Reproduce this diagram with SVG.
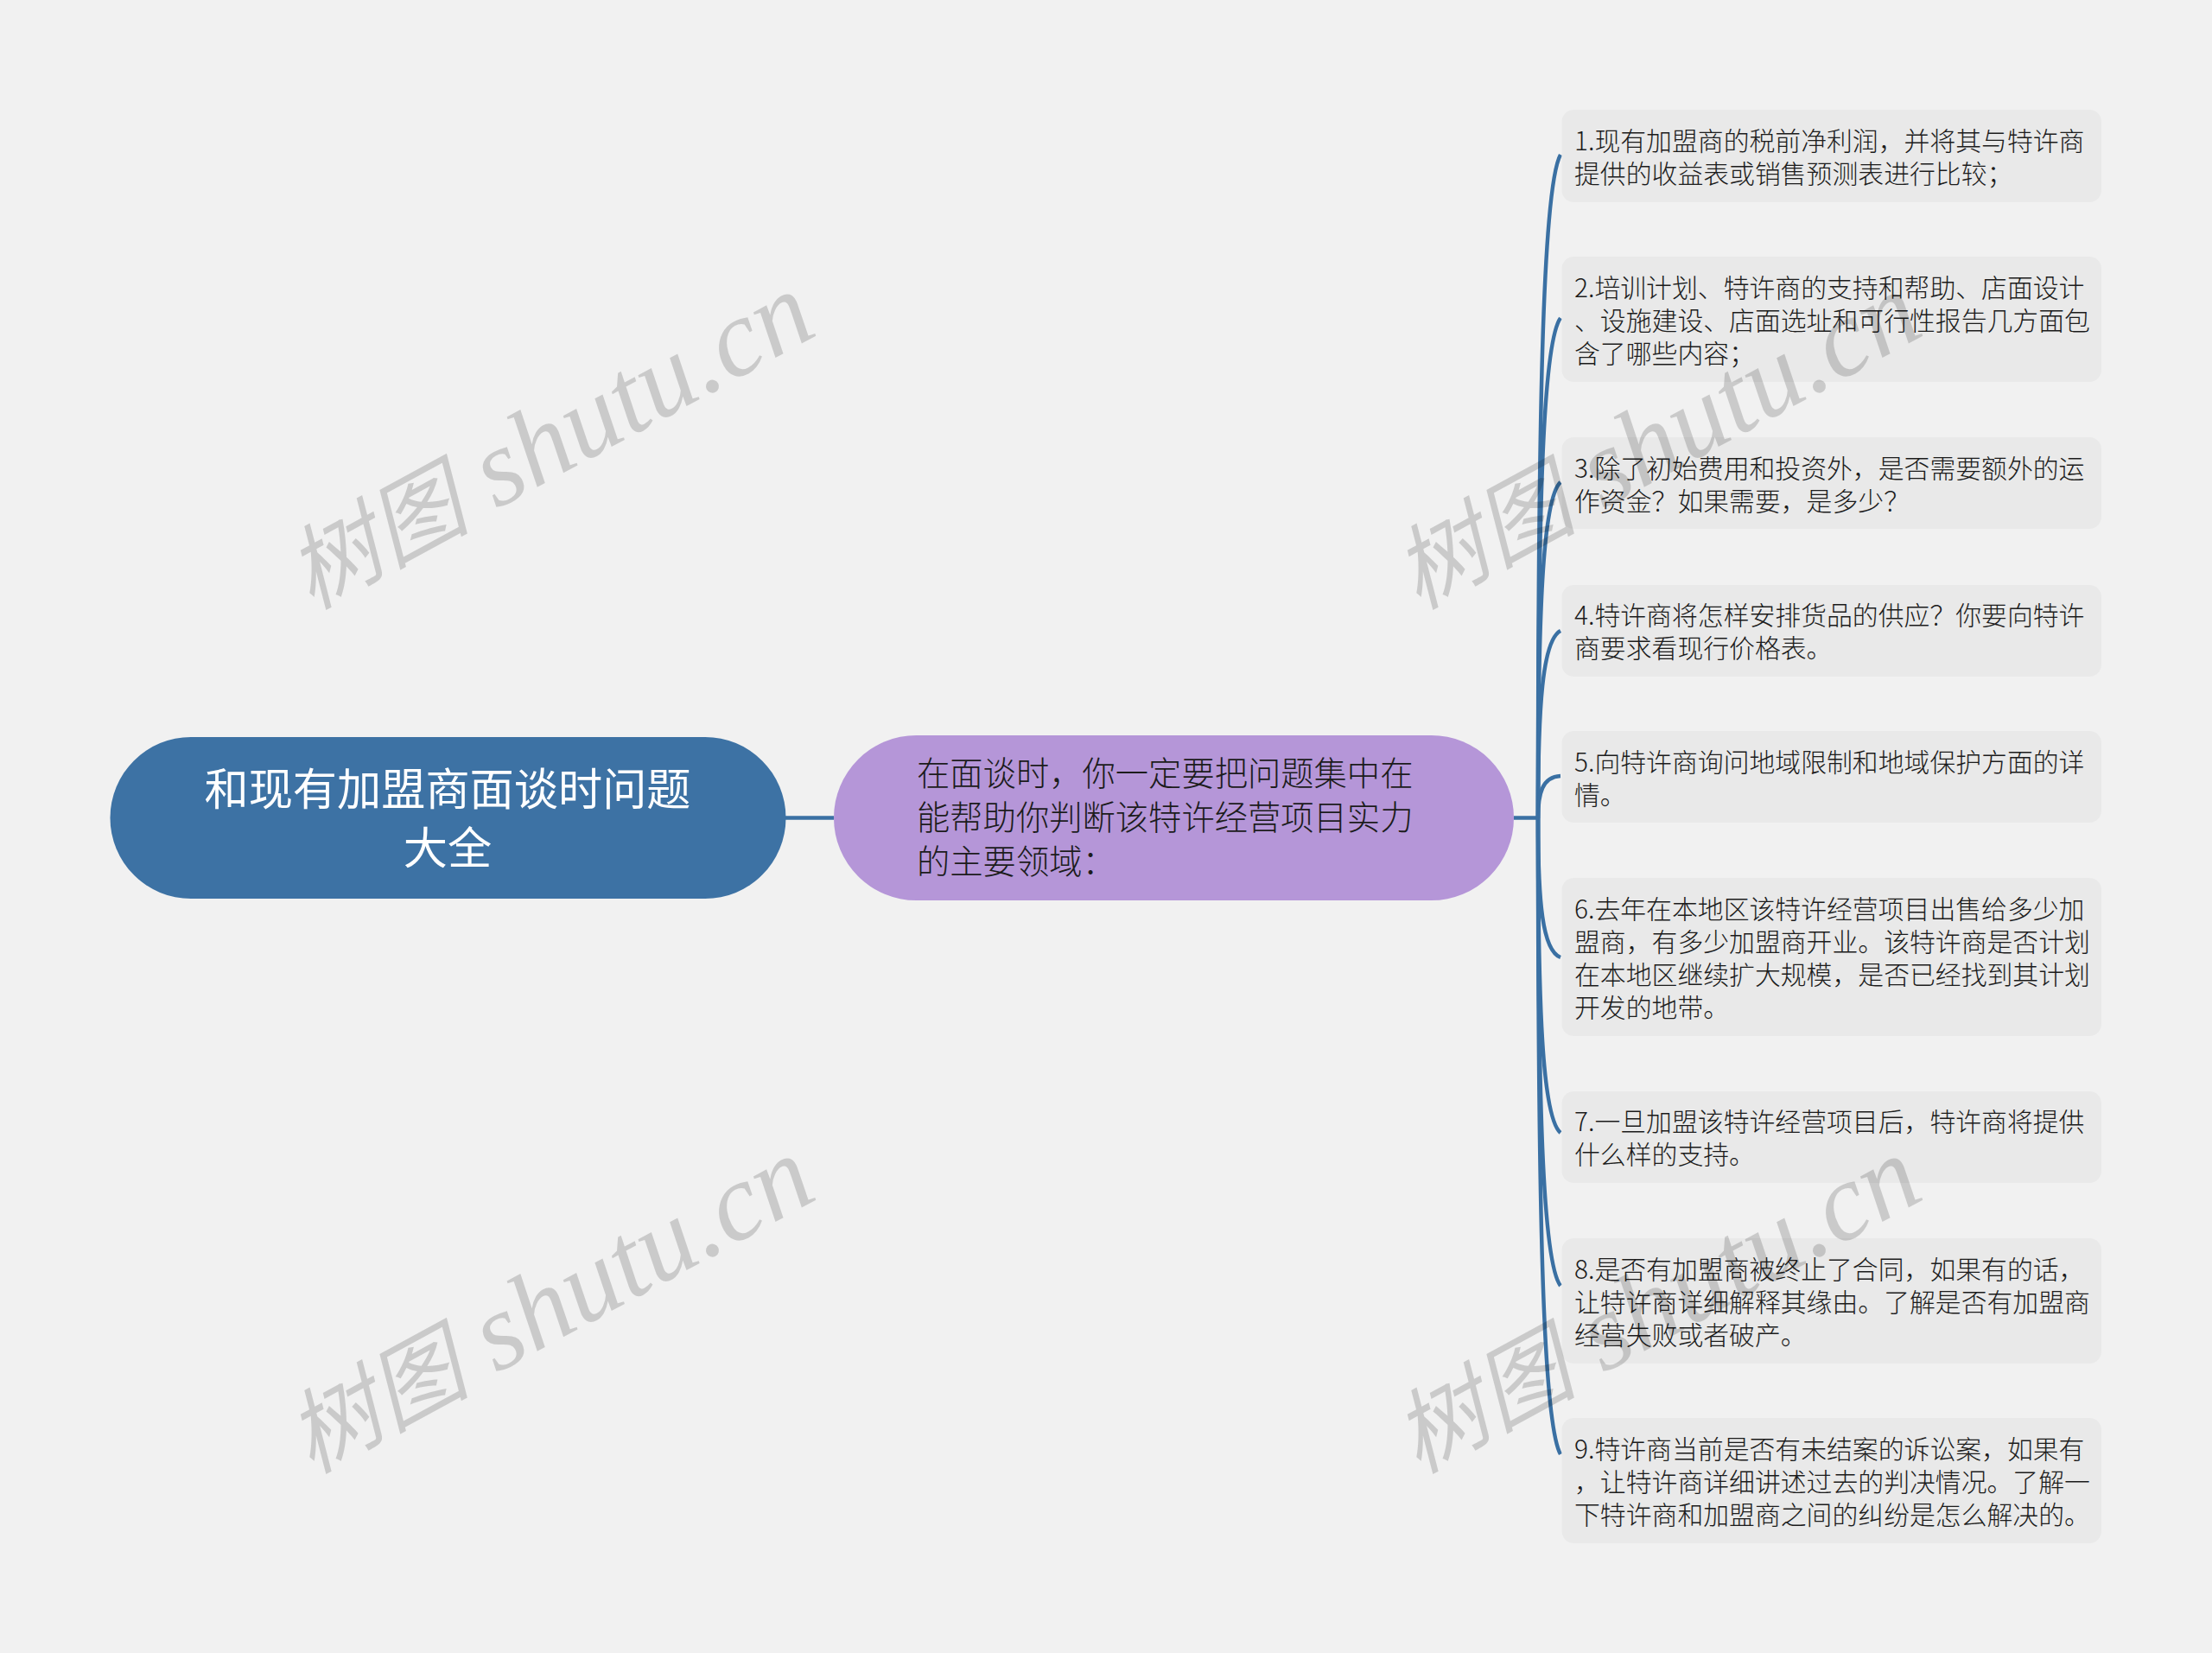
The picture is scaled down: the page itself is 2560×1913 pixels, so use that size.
<svg xmlns="http://www.w3.org/2000/svg" width="2560" height="1913" viewBox="0 0 2560 1913">
<style>
text{font-family:"Noto Sans CJK SC","Liberation Sans",sans-serif;font-weight:300}
.wm{font-family:"Liberation Serif","Noto Sans CJK SC",serif;font-style:italic;font-weight:400;font-size:127px;fill:#000;fill-opacity:.16}
.wc{font-size:106px;font-family:"Noto Sans CJK SC",serif}
.leaf{fill:#e9e9e9}
.lt{font-size:29.850px;fill:#1c1c1c}
.c{fill:none;stroke:#3a70a3;stroke-width:4.500}
</style>
<rect width="2560" height="1913" fill="#f1f1f1"/>
<g id="connectors">
<path class="c" d="M909 946.500H965"/>
<path class="c" d="M1752 946.500H1780"/>
<path class="c" d="M1780 947C1780 486 1785 217 1806 179"/>
<path class="c" d="M1780 947C1780 594 1785 397 1806 368"/>
<path class="c" d="M1780 947C1780 712 1785 577 1806 558"/>
<path class="c" d="M1780 947C1780 817 1785 741 1806 730"/>
<path class="c" d="M1780 947C1780 918 1785 899 1806 898"/>
<path class="c" d="M1780 947C1780 1044 1785 1100 1806 1108"/>
<path class="c" d="M1780 947C1780 1169 1785 1293 1806 1311"/>
<path class="c" d="M1780 947C1780 1272 1785 1461 1806 1488"/>
<path class="c" d="M1780 947C1780 1388 1785 1646 1806 1683"/>
</g>
<g id="root">
<rect x="127.500" y="853" width="782" height="187" rx="93.500" fill="#3d72a4"/>
<text x="518" y="931.500" text-anchor="middle" font-size="51.200" style="font-weight:400" fill="#fff">和现有加盟商面谈时问题</text>
<text x="518" y="999.500" text-anchor="middle" font-size="51.200" style="font-weight:400" fill="#fff">大全</text>
</g>
<g id="topic">
<rect x="965" y="851" width="787" height="191" rx="95.500" fill="#b596d8"/>
<text x="1061" y="909" font-size="38.300" fill="#1c1c1c">在面谈时，你一定要把问题集中在</text>
<text x="1061" y="960" font-size="38.300" fill="#1c1c1c">能帮助你判断该特许经营项目实力</text>
<text x="1061" y="1011" font-size="38.300" fill="#1c1c1c">的主要领域：</text>
</g>
<g id="leaf1"><rect class="leaf" x="1807.500" y="127" width="624.500" height="107" rx="14"/>
<text class="lt" x="1822" y="174">1.现有加盟商的税前净利润，并将其与特许商</text>
<text class="lt" x="1822" y="212">提供的收益表或销售预测表进行比较；</text></g>
<g id="leaf2"><rect class="leaf" x="1807.500" y="297" width="624.500" height="145" rx="14"/>
<text class="lt" x="1822" y="344">2.培训计划、特许商的支持和帮助、店面设计</text>
<text class="lt" x="1822" y="382">、设施建设、店面选址和可行性报告几方面包</text>
<text class="lt" x="1822" y="420">含了哪些内容；</text></g>
<g id="leaf3"><rect class="leaf" x="1807.500" y="506" width="624.500" height="106" rx="14"/>
<text class="lt" x="1822" y="552.500">3.除了初始费用和投资外，是否需要额外的运</text>
<text class="lt" x="1822" y="590.500">作资金？如果需要，是多少？</text></g>
<g id="leaf4"><rect class="leaf" x="1807.500" y="677" width="624.500" height="106" rx="14"/>
<text class="lt" x="1822" y="723">4.特许商将怎样安排货品的供应？你要向特许</text>
<text class="lt" x="1822" y="761">商要求看现行价格表。</text></g>
<g id="leaf5"><rect class="leaf" x="1807.500" y="846" width="624.500" height="106" rx="14"/>
<text class="lt" x="1822" y="892.500">5.向特许商询问地域限制和地域保护方面的详</text>
<text class="lt" x="1822" y="930.500">情。</text></g>
<g id="leaf6"><rect class="leaf" x="1807.500" y="1016" width="624.500" height="183" rx="14"/>
<text class="lt" x="1822" y="1062.500">6.去年在本地区该特许经营项目出售给多少加</text>
<text class="lt" x="1822" y="1100.500">盟商，有多少加盟商开业。该特许商是否计划</text>
<text class="lt" x="1822" y="1138.500">在本地区继续扩大规模，是否已经找到其计划</text>
<text class="lt" x="1822" y="1176.500">开发的地带。</text></g>
<g id="leaf7"><rect class="leaf" x="1807.500" y="1263" width="624.500" height="106" rx="14"/>
<text class="lt" x="1822" y="1309">7.一旦加盟该特许经营项目后，特许商将提供</text>
<text class="lt" x="1822" y="1347">什么样的支持。</text></g>
<g id="leaf8"><rect class="leaf" x="1807.500" y="1433" width="624.500" height="145" rx="14"/>
<text class="lt" x="1822" y="1479.500">8.是否有加盟商被终止了合同，如果有的话，</text>
<text class="lt" x="1822" y="1517.500">让特许商详细解释其缘由。了解是否有加盟商</text>
<text class="lt" x="1822" y="1555.500">经营失败或者破产。</text></g>
<g id="leaf9"><rect class="leaf" x="1807.500" y="1641" width="624.500" height="145" rx="14"/>
<text class="lt" x="1822" y="1687.500">9.特许商当前是否有未结案的诉讼案，如果有</text>
<text class="lt" x="1822" y="1725.500">，让特许商详细讲述过去的判决情况。了解一</text>
<text class="lt" x="1822" y="1763.500">下特许商和加盟商之间的纠纷是怎么解决的。</text></g>
<g id="watermarks">
<text class="wm" transform="translate(360 706) rotate(-28.500)"><tspan class="wc">树图</tspan> shutu.cn</text>
<text class="wm" transform="translate(1641 706) rotate(-28.500)"><tspan class="wc">树图</tspan> shutu.cn</text>
<text class="wm" transform="translate(360 1706) rotate(-28.500)"><tspan class="wc">树图</tspan> shutu.cn</text>
<text class="wm" transform="translate(1641 1706) rotate(-28.500)"><tspan class="wc">树图</tspan> shutu.cn</text>
</g>
</svg>
